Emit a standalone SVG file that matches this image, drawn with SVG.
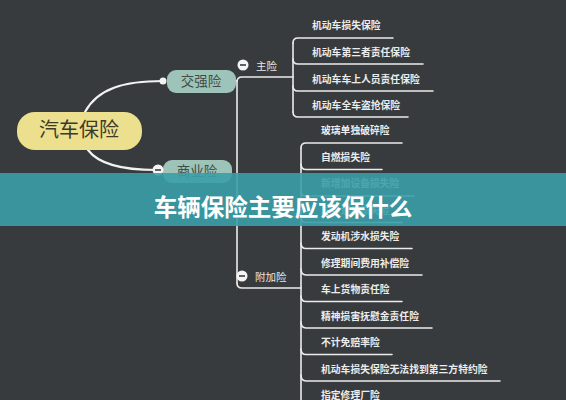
<svg xmlns="http://www.w3.org/2000/svg" width="566" height="400" viewBox="0 0 566 400">
<style>
.bg{fill:#383b3d}
.ln{fill:none;stroke:#ececec;stroke-width:1.6;stroke-linecap:round}
.lnb{fill:none;stroke:#f2f2f2;stroke-width:2.2;stroke-linecap:round}
.it{font-family:"Noto Sans CJK SC","Noto Sans",sans-serif;font-size:9.8px;font-weight:bold;fill:#ececec}
.lb{font-family:"Noto Sans CJK SC","Noto Sans",sans-serif;font-size:10.5px;fill:#e8e8e8}
.nd{font-family:"Noto Sans CJK SC","Noto Sans",sans-serif;text-anchor:middle}
.tg{fill:#f4f4f4}
.tgm{stroke:#3a3d3f;stroke-width:1.6}
</style>
<rect class="bg" x="0" y="0" width="566" height="400"/>
<g id="connectors">
<path class="lnb" d="M85 112 C98 88 125 81 163 81"/>
<path class="lnb" d="M88 150 C100 166 128 170 156 170"/>
<path class="ln" d="M236 81 L237 81"/>
<path class="ln" d="M237 283 L237 82 Q237 77 242 77 L293 77"/>
<path class="ln" d="M237 283 Q237 288 242 288 L301 288"/>
<path class="ln" d="M293 43 L293 112"/>
<path class="ln" d="M293 43 Q293 38 298 38 L393 38"/>
<path class="ln" d="M293 59 Q293 64 298 64 L423 64"/>
<path class="ln" d="M293 86 Q293 91 298 91 L433 91"/>
<path class="ln" d="M293 112 Q293 117 298 117 L408 117"/>
<path class="ln" d="M301 148 L301 400"/>
<path class="ln" d="M301 148 Q301 143 306 143 L402 143"/>
<path class="ln" d="M301 164 Q301 169.5 306 169.5 L382 169.5"/>
<path class="ln" d="M301 191 Q301 196 306 196 L414 196"/>
<path class="ln" d="M301 217 Q301 222.5 306 222.5 L402 222.5"/>
<path class="ln" d="M301 243 Q301 248.5 306 248.5 L412 248.5"/>
<path class="ln" d="M301 269 Q301 275 306 275 L422 275"/>
<path class="ln" d="M301 296 Q301 301.5 306 301.5 L402 301.5"/>
<path class="ln" d="M301 322 Q301 328 306 328 L432 328"/>
<path class="ln" d="M301 349 Q301 354.5 306 354.5 L392 354.5"/>
<path class="ln" d="M301 375 Q301 381 306 381 L500 381"/>
</g>
<g id="root">
<rect x="17" y="112" width="125" height="38" rx="18" fill="#ece08e"/>
<text class="nd" x="79" y="137" font-size="20" fill="#3d3a2a">汽车保险</text>
</g>
<g id="jqx">
<rect x="167" y="70" width="69" height="23" rx="9" fill="#9ec3b8"/>
<text class="nd" x="201" y="86" font-size="13.5" fill="#3e4e4a">交强险</text>
<circle cx="163" cy="81" r="3.5" fill="#f4f4f4"/>
</g>
<g id="syx">
<rect x="163" y="160" width="69" height="23" rx="9" fill="#9ec3b8"/>
<text class="nd" x="197" y="176" font-size="13.5" fill="#3e4e4a">商业险</text>
<circle class="tg" cx="158" cy="170" r="5.5"/>
<line class="tgm" x1="155" y1="170" x2="161" y2="170"/>
</g>
<g id="zx">
<circle class="tg" cx="243" cy="65" r="5.5"/>
<line class="tgm" x1="240" y1="65" x2="246" y2="65"/>
<text class="lb" x="256" y="70">主险</text>
</g>
<g id="fjx">
<circle class="tg" cx="242" cy="276" r="5.5"/>
<line class="tgm" x1="239" y1="276" x2="245" y2="276"/>
<text class="lb" x="255" y="280.5">附加险</text>
</g>
<g id="zx-items">
<text class="it" x="312" y="29">机动车损失保险</text>
<text class="it" x="312" y="56">机动车第三者责任保险</text>
<text class="it" x="312" y="83">机动车车上人员责任保险</text>
<text class="it" x="312" y="109">机动车全车盗抢保险</text>
</g>
<g id="fjx-items">
<text class="it" x="321" y="134">玻璃单独破碎险</text>
<text class="it" x="321" y="160.5">自燃损失险</text>
<text class="it" x="321" y="187">新增加设备损失险</text>
<text class="it" x="321" y="213.5">车身划痕损失险</text>
<text class="it" x="321" y="240">发动机涉水损失险</text>
<text class="it" x="321" y="266.5">修理期间费用补偿险</text>
<text class="it" x="321" y="293">车上货物责任险</text>
<text class="it" x="321" y="319.5">精神损害抚慰金责任险</text>
<text class="it" x="321" y="346">不计免赔率险</text>
<text class="it" x="321" y="372.5">机动车损失保险无法找到第三方特约险</text>
<text class="it" x="321" y="398.5">指定修理厂险</text>
</g>
<g id="banner">
<rect x="0" y="173" width="566" height="53" fill="#3a9ea9" opacity="0.9"/>
<text class="nd" x="283" y="215.5" font-size="23.5" font-weight="bold" fill="#ffffff">车辆保险主要应该保什么</text>
</g>
</svg>
